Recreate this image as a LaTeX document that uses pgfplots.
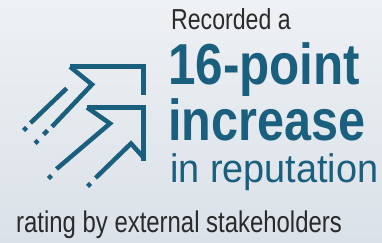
\documentclass[border=0pt]{standalone}
\usepackage{pgfplots}
\pgfplotsset{compat=1.18}
\usepackage{graphicx}
\usepackage{fontspec}
\setmainfont{Liberation Sans}
\definecolor{teal}{HTML}{1B5F7F}
\definecolor{txtgray}{HTML}{2A2A2A}
\definecolor{bgtop}{HTML}{EEF1F4}
\definecolor{bgbot}{HTML}{DAE1E8}
\begin{document}
\begin{tikzpicture}
\useasboundingbox (0,0) rectangle (382bp,243bp);
\shade[top color=bgtop, bottom color=bgbot] (0,0) rectangle (382bp,243bp);
\begin{axis}[
  at={(0,0)}, anchor=south west,
  width=382bp, height=243bp, scale only axis,
  xmin=0, xmax=382, ymin=0, ymax=243, y dir=reverse,
  hide axis, clip=false,
  arr/.style={draw=teal, line width=4.5bp, line join=miter, line cap=butt, mark=none},
]
% upper arrow head
\addplot[arr] coordinates {(70,66.7) (143.5,66.7) (143.5,95)};
\addplot[arr] coordinates {(70,66.7) (92,84.5) (52,126.7)};
\addplot[arr] coordinates {(47.5,130.5) (43.5,134.5)};
\addplot[arr] coordinates {(38,140.5) (35,143.5)};
% speed line
\addplot[arr] coordinates {(66.7,88.3) (30.5,123)};
\addplot[arr] coordinates {(26.5,127.5) (23.5,130.5)};
% lower arrow
\addplot[arr] coordinates {(87,107.5) (143.5,107.5) (143.5,161)};
\addplot[arr] coordinates {(87,107.5) (110,123.5) (56.5,169)};
\addplot[arr] coordinates {(51.5,175.5) (48.5,178.5)};
\addplot[arr] coordinates {(143.5,157.5) (131,143.5) (95.5,178)};
\addplot[arr] coordinates {(90.5,183.5) (87.5,186.5)};
% texts
\node[anchor=base west, inner sep=0, text=txtgray] at (axis cs:171,30)
  {\scalebox{0.8}[1]{\fontsize{29}{29}\selectfont Recorded a}};
\node[anchor=base west, inner sep=0, text=teal] at (axis cs:168,84)
  {\scalebox{0.855}[1]{\fontsize{58}{58}\bfseries 16-point}};
\node[anchor=base west, inner sep=0, text=teal] at (axis cs:168,140)
  {\scalebox{0.84}[1]{\fontsize{58}{58}\bfseries increase}};
\node[anchor=base west, inner sep=0, text=teal] at (axis cs:170,182)
  {\scalebox{0.95}[1]{\fontsize{40}{40}\selectfont in reputation}};
\node[anchor=base west, inner sep=0, text=txtgray] at (axis cs:16,232)
  {\scalebox{0.8}[1]{\fontsize{30}{30}\selectfont rating by external stakeholders}};
\end{axis}
\end{tikzpicture}
\end{document}
